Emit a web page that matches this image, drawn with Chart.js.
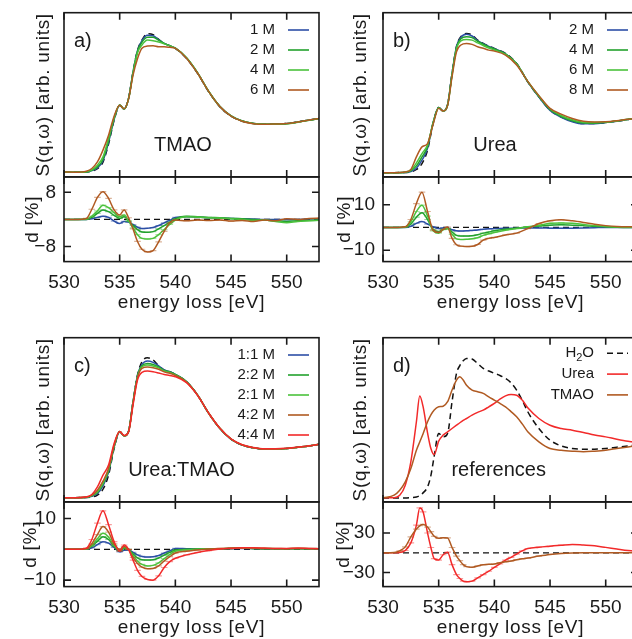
<!DOCTYPE html>
<html>
<head>
<meta charset="utf-8">
<script src="https://cdn.jsdelivr.net/npm/chart.js@4.4.1/dist/chart.umd.min.js"></script>
<style>
  html, body { margin: 0; padding: 0; background: #fff; }
  body { width: 632px; height: 639px; overflow: hidden; position: relative; }
  canvas { position: absolute; }
</style>
</head>
<body>
<script>
/* ─── Energy grids and ticks ─── */
const energy = [530, 531, 532, 532.5, 533, 533.5, 534, 534.5, 535, 535.4, 535.8, 536.2, 536.6, 537, 537.5, 538, 538.5, 539, 539.5, 540, 541, 542, 543, 544, 545, 546, 547, 548, 549, 550, 551, 552, 553];
const energyRef = [530, 531, 531.5, 532, 532.5, 533, 533.3, 533.6, 534, 534.3, 534.6, 535, 535.4, 535.8, 536.2, 536.6, 536.9, 537.2, 537.5, 538, 538.5, 539, 539.5, 540, 540.5, 541, 541.5, 542, 542.5, 543, 544, 545, 546, 547, 548, 549, 550, 551, 552, 553];
const zeroEnergy = [530, 553];
const zeroLevel = [0, 0];
const energyTicks = [530, 535, 540, 545, 550];
const dTicksA = [8, -8];
const dTicksB = [10, -10];
const dTicksC = [10, -10];
const dTicksD = [30, -30];

/* ─── a) TMAO ─── */
const waterA = [3.0, 2.8, 3.0, 3.6, 5.0, 9.0, 20.0, 34.5, 43.7, 41.3, 48.0, 64.0, 77.0, 83.3, 87.2, 86.6, 83.8, 81.3, 79.9, 78.3, 72.2, 63.0, 51.8, 42.7, 37.0, 33.9, 32.5, 32.1, 32.3, 32.5, 33.5, 34.6, 35.6];
const tmao1 = [3.0, 2.8, 3.0, 3.8, 5.5, 9.8, 21.0, 35.0, 43.7, 41.2, 47.8, 63.8, 76.8, 83.0, 86.2, 86.0, 83.6, 81.3, 79.9, 78.4, 72.4, 63.2, 51.9, 42.8, 37.1, 34.0, 32.6, 32.1, 32.3, 32.5, 33.5, 34.6, 35.6];
const tmao2 = [3.0, 2.8, 3.0, 4.0, 6.1, 10.6, 22.0, 35.5, 43.8, 41.3, 47.8, 63.6, 76.5, 82.0, 85.0, 85.0, 83.3, 81.3, 79.9, 78.4, 72.5, 63.3, 52.0, 42.9, 37.1, 34.0, 32.6, 32.1, 32.2, 32.4, 33.4, 34.5, 35.6];
const tmao4 = [3.0, 2.8, 3.1, 4.3, 7.1, 12.2, 23.5, 36.0, 43.8, 41.4, 47.6, 63.0, 75.5, 80.3, 83.3, 82.9, 82.1, 81.0, 79.8, 78.4, 72.6, 63.4, 52.0, 42.9, 37.1, 34.0, 32.5, 32.0, 32.1, 32.3, 33.3, 34.5, 35.6];
const tmao6 = [3.0, 2.9, 3.5, 5.1, 9.1, 16.3, 25.4, 37.0, 43.7, 41.5, 47.5, 62.0, 72.0, 78.3, 79.7, 79.9, 79.3, 79.3, 78.9, 78.3, 72.3, 63.1, 51.9, 42.8, 37.0, 33.9, 32.4, 32.0, 32.2, 32.5, 33.5, 34.6, 35.7];
const dTmao1 = [0, 0, 0, 0.2, 0.6, 0.9, 0.6, -0.5, -1.2, -0.6, -0.8, -1.5, -2.3, -2.7, -2.6, -2.4, -1.8, -1.0, -0.3, 0.6, 0.8, 0.7, 0.5, 0.4, 0.3, 0.2, 0.1, 0, 0, -0.1, 0, 0.1, 0.2];
const dTmao2 = [0, 0, 0, 0.6, 1.8, 2.8, 2.3, 1.2, 0.3, 0.8, -0.5, -1.8, -3.0, -3.7, -3.8, -3.6, -2.8, -1.8, -0.8, 0.2, 0.9, 0.8, 0.6, 0.5, 0.3, 0.2, 0, -0.2, -0.4, -0.6, -0.4, -0.3, -0.2];
const dTmao4 = [0, 0, 0.1, 1.0, 2.5, 4.2, 3.5, 2.0, 0.8, 1.3, -0.5, -2.5, -4.5, -5.6, -5.8, -5.6, -4.5, -3.0, -1.5, -0.2, 0.8, 0.7, 0.5, 0.4, 0.2, 0, -0.3, -0.2, -0.6, -1.0, -0.6, -0.4, -0.2];
const dTmao6 = [0, 0, 0.3, 3.0, 6.5, 8.2, 6.2, 2.8, 1.3, 2.8, 0.5, -2.8, -6.5, -8.8, -9.6, -9.2, -6.6, -3.5, -1.0, -0.2, -0.4, -0.2, -0.3, -0.2, -0.5, -0.3, -0.6, -0.2, -0.4, 0.2, 0.0, 0.3, 0.4];

/* ─── b) Urea ─── */
const waterB = [2.6, 2.6, 2.7, 3.0, 4.5, 8.1, 16.3, 32.5, 42.3, 40.2, 44.0, 63.0, 79.5, 85.4, 87.4, 86.4, 83.3, 81.3, 79.7, 78.3, 75.2, 69.1, 57.9, 48.8, 40.7, 36.6, 33.9, 32.5, 32.5, 33.1, 33.9, 35.0, 35.6];
const urea2 = [2.6, 2.6, 2.7, 3.3, 5.3, 10.2, 17.5, 33.0, 42.3, 40.2, 44.0, 63.0, 79.3, 85.0, 86.8, 85.8, 83.0, 81.1, 79.5, 78.1, 75.0, 69.0, 57.9, 48.6, 40.5, 36.3, 33.6, 32.3, 32.4, 33.1, 33.9, 35.0, 35.6];
const urea4 = [2.6, 2.6, 2.8, 3.7, 6.7, 12.2, 18.5, 33.0, 42.2, 40.2, 43.8, 62.5, 78.8, 84.1, 85.4, 84.8, 82.6, 80.8, 79.2, 77.9, 74.9, 69.0, 58.0, 48.9, 41.0, 36.8, 34.2, 32.8, 32.7, 33.2, 34.0, 35.0, 35.6];
const urea6 = [2.6, 2.6, 2.9, 4.1, 8.5, 14.2, 19.5, 32.8, 42.0, 40.2, 43.6, 62.0, 78.0, 82.9, 83.7, 83.3, 81.6, 80.0, 78.5, 77.3, 74.6, 68.7, 58.2, 49.3, 41.5, 37.4, 34.8, 33.3, 33.1, 33.4, 34.1, 35.1, 35.6];
const urea8 = [2.6, 2.6, 3.0, 4.5, 12.2, 18.3, 20.3, 32.0, 41.8, 40.1, 43.4, 61.0, 76.2, 80.3, 81.3, 80.7, 79.3, 78.3, 77.2, 76.6, 74.2, 68.1, 58.2, 49.5, 41.7, 38.2, 35.6, 33.9, 33.5, 33.6, 34.2, 35.1, 35.6];
const dUrea2 = [0, 0, 0, 0.5, 1.8, 2.6, 1.5, 0.3, -0.5, -0.2, -0.3, -1.0, -1.5, -1.6, -1.5, -1.3, -1.1, -0.8, -0.6, -0.5, -0.3, -0.3, -0.2, -0.2, -0.3, -0.4, -0.3, -0.2, -0.1, 0, 0, 0, 0];
const dUrea4 = [0, 0, 0.1, 1.5, 4.5, 6.5, 3.5, -0.8, -1.8, -0.8, -0.5, -2.0, -3.5, -3.8, -3.8, -3.6, -3.2, -2.5, -2.0, -1.5, -0.8, -0.3, 0.2, 0.6, 1.0, 1.2, 1.0, 0.8, 0.5, 0.3, 0.1, 0, 0];
const dUrea6 = [0, 0, 0.2, 2.5, 7.0, 9.8, 5.0, -1.5, -2.5, -1.0, -0.5, -3.0, -5.0, -5.3, -5.2, -5.0, -4.5, -3.5, -2.8, -2.2, -1.2, -0.5, 0.3, 1.0, 1.8, 2.0, 1.8, 1.3, 0.8, 0.4, 0.2, 0.1, 0.1];
const dUrea8 = [0, 0, 0.3, 3.5, 10.5, 15.5, 7.0, -1.2, -2.2, -0.8, 0.2, -4.8, -7.6, -8.2, -8.4, -8.3, -7.5, -5.6, -4.8, -4.4, -3.3, -2.5, -0.5, 1.7, 2.9, 3.4, 2.9, 2.2, 1.4, 0.8, 0.4, 0.3, 0.3];

/* ─── c) Urea:TMAO ─── */
const waterC = [2.6, 2.6, 2.7, 3.0, 4.1, 7.7, 16.3, 32.5, 42.7, 40.2, 43.1, 61.0, 77.2, 85.4, 87.8, 86.4, 82.9, 80.3, 79.3, 77.6, 73.2, 65.0, 53.9, 44.7, 38.2, 34.6, 32.9, 32.1, 32.1, 32.5, 33.3, 34.1, 35.2];
const mix11 = [2.6, 2.6, 2.7, 3.4, 5.1, 9.8, 18.0, 33.2, 42.7, 40.1, 43.0, 61.0, 77.0, 83.7, 85.8, 85.0, 82.9, 80.4, 79.3, 77.7, 73.3, 65.0, 53.9, 44.7, 38.2, 34.6, 32.9, 32.1, 32.1, 32.5, 33.3, 34.1, 35.2];
const mix22 = [2.6, 2.6, 2.8, 3.7, 5.8, 10.8, 18.8, 33.6, 42.8, 40.2, 43.0, 60.8, 76.6, 82.9, 84.3, 83.7, 82.2, 80.1, 79.1, 77.6, 73.3, 65.0, 53.9, 44.7, 38.2, 34.6, 32.9, 32.1, 32.1, 32.5, 33.3, 34.1, 35.2];
const mix21 = [2.6, 2.6, 2.8, 3.9, 6.1, 11.2, 19.5, 34.0, 42.8, 40.2, 42.9, 60.5, 76.0, 82.3, 83.3, 82.8, 81.6, 79.7, 78.8, 77.3, 73.1, 65.0, 53.9, 44.8, 38.3, 34.7, 33.0, 32.1, 32.1, 32.5, 33.3, 34.1, 35.2];
const mix42 = [2.6, 2.6, 2.9, 4.1, 7.1, 12.6, 20.3, 34.5, 42.8, 40.3, 42.8, 60.0, 75.5, 81.3, 82.1, 81.7, 80.8, 79.2, 78.3, 77.0, 73.0, 65.0, 54.0, 44.8, 38.3, 34.7, 33.0, 32.2, 32.2, 32.5, 33.3, 34.1, 35.2];
const mix44 = [2.6, 2.6, 3.1, 4.5, 9.1, 16.3, 22.4, 35.6, 42.9, 40.4, 42.6, 59.0, 74.2, 78.9, 79.7, 79.3, 78.5, 77.6, 77.0, 76.2, 72.6, 64.8, 54.0, 44.9, 38.4, 34.8, 33.1, 32.3, 32.3, 32.6, 33.4, 34.2, 35.2];
const dMix11 = [0, 0, 0, 0.5, 1.5, 2.5, 2.0, 0.6, -0.8, -0.3, -0.2, -1.0, -1.8, -2.3, -2.5, -2.4, -2.0, -1.2, -0.5, 0.3, 0.2, 0.1, 0.1, 0.1, 0.2, 0.3, 0.2, 0.1, 0.1, 0.1, 0.2, 0.1, 0.1];
const dMix22 = [0, 0, 0.1, 1.0, 2.6, 4.1, 3.2, 1.0, -0.5, 0.3, 0, -1.5, -2.8, -3.4, -3.5, -3.4, -2.8, -1.9, -1.0, -0.2, 0, 0.1, 0.2, 0.2, 0.3, 0.4, 0.3, 0.2, 0.2, 0.2, 0.2, 0.2, 0.2];
const dMix21 = [0, 0, 0.1, 1.3, 3.4, 5.2, 4.0, 1.3, -0.3, 0.6, 0, -2.0, -3.8, -4.9, -5.4, -5.2, -4.4, -3.0, -1.7, -0.6, -0.2, 0, 0.2, 0.2, 0.3, 0.4, 0.3, 0.3, 0.2, 0.2, 0.3, 0.2, 0.2];
const dMix42 = [0, 0, 0.2, 1.8, 4.8, 7.4, 5.6, 1.8, 0, 0.9, -0.1, -2.6, -4.6, -5.8, -6.3, -6.2, -5.4, -3.8, -2.4, -1.2, -0.6, -0.2, 0.1, 0.3, 0.4, 0.5, 0.4, 0.3, 0.3, 0.2, 0.3, 0.3, 0.2];
const dMix44 = [0, 0, 0.4, 3.2, 8.5, 12.5, 8.0, 2.5, -0.6, 1.4, 0, -3.5, -6.8, -8.8, -9.8, -10.0, -8.6, -5.9, -4.0, -2.9, -1.8, -1.0, -0.4, 0.1, 0.3, 0.5, 0.5, 0.4, 0.3, 0.3, 0.4, 0.3, 0.2];

/* ─── d) references ─── */
const waterD = [2.4, 2.4, 2.4, 2.4, 2.6, 3.0, 3.8, 5.5, 9.1, 16.0, 28.0, 41.7, 39.6, 41.7, 61.0, 78.3, 83.0, 86.0, 87.4, 87.0, 84.3, 81.3, 79.7, 78.3, 77.0, 75.2, 72.5, 68.1, 62.0, 54.9, 44.7, 37.6, 34.1, 32.5, 32.1, 32.1, 32.5, 33.3, 34.1, 35.0];
const ureaRef = [2.6, 2.6, 4.0, 10.2, 24.4, 48.8, 64.5, 58.0, 42.0, 32.5, 28.8, 37.0, 40.7, 42.7, 44.7, 46.7, 48.2, 49.6, 50.8, 52.8, 54.5, 55.9, 57.9, 60.0, 62.6, 64.6, 65.4, 65.0, 62.0, 57.3, 50.8, 46.7, 44.7, 43.7, 42.3, 40.7, 39.6, 38.2, 37.0, 36.2];
const tmaoRef = [2.4, 4.1, 7.1, 12.2, 20.3, 31.5, 36.5, 41.5, 48.8, 53.0, 56.0, 57.9, 58.3, 61.0, 68.1, 74.2, 76.2, 74.2, 71.1, 68.1, 67.1, 66.1, 64.0, 62.0, 60.0, 57.9, 55.0, 51.8, 47.5, 42.7, 36.6, 32.5, 31.5, 30.9, 30.5, 30.9, 31.5, 32.5, 33.5, 34.6];
const dUreaRef = [0, 0, 0.5, 3.5, 15, 42, 68, 62, 30, 8, -9, -11, -3, 1, -18, -33, -39, -43, -44, -43, -38, -33, -28, -22, -17, -11, -7, -2, 3, 6.5, 8.5, 10, 11.5, 12.7, 11.7, 10.5, 8.2, 5.8, 3.5, 2];
const dTmaoRef = [0, 0.5, 3, 9, 24, 36, 41, 43, 39, 32, 25, 22, 23, 22.5, 8, -5, -12, -18, -21, -22, -20, -18, -17.5, -17, -15, -13.5, -12.5, -10.5, -9, -8, -5, -2.5, -1, -0.3, 0, 0, 0, 0, 0, 0];

/* ─── Look ─── */
const INK = '#1a1a1a';
const FONT = '"Liberation Sans", Arial, Helvetica, sans-serif';
const TICK = 7;
const C = {
    blue:   '#2c4fa6',
    green:  '#22a12d',
    lgreen: '#4cc23d',
    brown:  '#b05a22',
    red:    '#f22a2a',
    black:  '#111111',
};

/* ─── Dataset helpers ─── */
function curve(xs, ys, color, label, dash) {
    return {
        label: label,
        data: xs.map((e, i) => ({ x: e, y: ys[i] })),
        borderColor: color,
        borderWidth: 1.5,
        borderDash: dash || [],
        pointRadius: 0,
        tension: 0.4,
        cubicInterpolationMode: 'monotone',
        fill: false,
    };
}

// difference curve with small error-bar caps on the structured region
function diffCurve(xs, ys, color) {
    const ds = curve(xs, ys, color);
    ds.pointStyle = 'line';
    ds.pointBorderColor = color + '77';
    ds.pointBorderWidth = 1.2;
    ds.pointRadius = ctx => {
        const e = xs[ctx.dataIndex];
        return (e >= 531.5 && e <= 546) ? 3.3 : 0;
    };
    return ds;
}

function zeroLine() {
    const ds = curve(zeroEnergy, zeroLevel, C.black, undefined, [6, 4]);
    ds.borderWidth = 1.3;
    ds.tension = 0;
    return ds;
}

/* ─── Frame, ticks, texts, legend ─── */
function drawLabel(ctx, text, x, y, align) {
    // "H_2O" style subscripts
    const parts = text.split(/(_\d)/).filter(Boolean);
    const big = ctx.font;
    const small = big.replace(/^\d+px/, '11px');
    let total = 0;
    parts.forEach(p => {
        ctx.font = p[0] === '_' ? small : big;
        total += ctx.measureText(p[0] === '_' ? p.slice(1) : p).width;
    });
    let cx = align === 'right' ? x - total : x;
    ctx.textAlign = 'left';
    parts.forEach(p => {
        const sub = p[0] === '_';
        ctx.font = sub ? small : big;
        const t = sub ? p.slice(1) : p;
        ctx.fillText(t, cx, sub ? y + 5 : y);
        cx += ctx.measureText(t).width;
    });
    ctx.font = big;
}

const panelDecor = {
    id: 'panelDecor',
    afterDatasetsDraw(chart, args, o) {
        const { ctx, chartArea: a } = chart;
        const x = chart.scales.x, y = chart.scales.y;
        ctx.save();
        ctx.strokeStyle = INK;
        ctx.fillStyle = INK;
        ctx.lineWidth = 1.6;
        ctx.setLineDash([]);
        ctx.strokeRect(a.left, a.top, a.right - a.left, a.bottom - a.top);

        ctx.beginPath();
        energyTicks.forEach(v => {
            const px = x.getPixelForValue(v);
            ctx.moveTo(px, a.bottom); ctx.lineTo(px, a.bottom - TICK);
            ctx.moveTo(px, a.top);    ctx.lineTo(px, a.top + TICK);
        });
        (o.yTicks || []).forEach(v => {
            const py = y.getPixelForValue(v);
            ctx.moveTo(a.left, py);  ctx.lineTo(a.left + TICK, py);
            ctx.moveTo(a.right, py); ctx.lineTo(a.right - TICK, py);
        });
        ctx.stroke();

        ctx.textBaseline = 'middle';
        ctx.font = '19px ' + FONT;
        if (o.xLabels) {
            ctx.textAlign = 'center';
            energyTicks.forEach(v => ctx.fillText(String(v), x.getPixelForValue(v), a.bottom + 21.5));
        }
        (o.yTicks || []).forEach(v => {
            ctx.textAlign = 'right';
            ctx.fillText(String(v).replace('-', '\u2212'), a.left - 8, y.getPixelForValue(v));
        });

        ctx.letterSpacing = '0.7px';
        if (o.xTitle) {
            ctx.textAlign = 'center';
            ctx.fillText(o.xTitle, (a.left + a.right) / 2, a.bottom + 41.5);
        }
        if (o.yTitle) {
            ctx.save();
            ctx.translate(a.left - o.yTitleGap, (a.top + a.bottom) / 2);
            ctx.rotate(-Math.PI / 2);
            ctx.textAlign = 'center';
            ctx.fillText(o.yTitle, 0, 0);
            ctx.restore();
        }
        ctx.letterSpacing = '0px';

        if (o.letter) {
            ctx.font = '20px ' + FONT;
            ctx.textAlign = 'left';
            ctx.fillText(o.letter, a.left + 10, a.top + 28.5);
        }
        if (o.note) {
            ctx.font = '20px ' + FONT;
            ctx.textAlign = 'center';
            ctx.fillText(o.note, a.left + o.noteX, a.top + 132.5);
        }

        if (o.legend) {
            const items = chart.data.datasets.filter(d => d.label).reverse();
            ctx.font = '15px ' + FONT;
            items.forEach((d, i) => {
                const yy = a.top + o.legend.top + i * o.legend.step;
                ctx.fillStyle = INK;
                drawLabel(ctx, d.label, a.left + 211, yy, 'right');
                ctx.strokeStyle = d.borderColor;
                ctx.lineWidth = 1.6;
                ctx.setLineDash(d.borderDash || []);
                ctx.beginPath();
                ctx.moveTo(a.left + 224, yy);
                ctx.lineTo(a.left + 245, yy);
                ctx.stroke();
            });
        }
        ctx.restore();
    }
};

/* ─── Chart factory ─── */
function makeChart(box, yRange, datasets, decor) {
    const canvas = document.createElement('canvas');
    canvas.width = box.w;
    canvas.height = box.h;
    canvas.style.left = box.left + 'px';
    canvas.style.top = box.top + 'px';
    canvas.style.width = box.w + 'px';
    canvas.style.height = box.h + 'px';
    document.body.appendChild(canvas);

    return new Chart(canvas, {
        type: 'line',
        data: { datasets: datasets },
        options: {
            responsive: false,
            animation: false,
            events: [],
            devicePixelRatio: 1,
            layout: { padding: box.pad },
            plugins: {
                legend: { display: false },
                tooltip: { enabled: false },
                panelDecor: decor,
            },
            scales: {
                x: { type: 'linear', min: 530, max: 552.9, display: false },
                y: { type: 'linear', min: yRange[0], max: yRange[1], display: false },
            }
        },
        plugins: [panelDecor]
    });
}

function makePanel(col, row, main, diff) {
    const left = col === 0 ? 0 : 319;
    const top = row === 0 ? 0 : 325;
    makeChart(
        { left: left, top: top, w: 320, h: 178, pad: { left: 64, top: 12.7, right: 1, bottom: 1.1 } },
        [0, 100], main.datasets,
        { yTitle: 'S(q,\u03c9) [arb. units]', yTitleGap: main.titleGap, letter: main.letter,
          note: main.note, noteX: main.noteX, legend: main.legend }
    );
    makeChart(
        { left: left, top: top + 170, w: 320, h: 150, pad: { left: 64, top: 6.9, right: 1, bottom: 58.4 } },
        diff.range, diff.datasets,
        { yTicks: diff.ticks, xLabels: true, xTitle: 'energy loss [eV]', yTitle: 'd [%]', yTitleGap: diff.titleGap }
    );
}

document.addEventListener('DOMContentLoaded', () => {
    const legend4 = { top: 17.3, step: 20 };

    makePanel(0, 0, {
        letter: 'a)', note: 'TMAO', noteX: 119, legend: legend4, titleGap: 20,
        datasets: [
            curve(energy, tmao6, C.brown, '6 M'),
            curve(energy, tmao4, C.lgreen, '4 M'),
            curve(energy, tmao2, C.green, '2 M'),
            curve(energy, tmao1, C.blue, '1 M'),
            curve(energy, waterA, C.black, undefined, [6, 4]),
        ]
    }, {
        range: [-12.45, 12.55], ticks: dTicksA, titleGap: 31,
        datasets: [
            diffCurve(energy, dTmao6, C.brown),
            diffCurve(energy, dTmao4, C.lgreen),
            diffCurve(energy, dTmao2, C.green),
            diffCurve(energy, dTmao1, C.blue),
            zeroLine(),
        ]
    });

    makePanel(1, 0, {
        letter: 'b)', note: 'Urea', noteX: 112, legend: legend4, titleGap: 22,
        datasets: [
            curve(energy, urea8, C.brown, '8 M'),
            curve(energy, urea6, C.lgreen, '6 M'),
            curve(energy, urea4, C.green, '4 M'),
            curve(energy, urea2, C.blue, '2 M'),
            curve(energy, waterB, C.black, undefined, [6, 4]),
        ]
    }, {
        range: [-15, 22.2], ticks: dTicksB, titleGap: 38,
        datasets: [
            diffCurve(energy, dUrea8, C.brown),
            diffCurve(energy, dUrea6, C.lgreen),
            diffCurve(energy, dUrea4, C.green),
            diffCurve(energy, dUrea2, C.blue),
            zeroLine(),
        ]
    });

    makePanel(0, 1, {
        letter: 'c)', note: 'Urea:TMAO', noteX: 117.5, legend: legend4, titleGap: 20,
        datasets: [
            curve(energy, mix44, C.red, '4:4 M'),
            curve(energy, mix42, C.brown, '4:2 M'),
            curve(energy, mix21, C.lgreen, '2:1 M'),
            curve(energy, mix22, C.green, '2:2 M'),
            curve(energy, mix11, C.blue, '1:1 M'),
            curve(energy, waterC, C.black, undefined, [6, 4]),
        ]
    }, {
        range: [-12.1, 15.4], ticks: dTicksC, titleGap: 33,
        datasets: [
            diffCurve(energy, dMix44, C.red),
            diffCurve(energy, dMix42, C.brown),
            diffCurve(energy, dMix21, C.lgreen),
            diffCurve(energy, dMix22, C.green),
            diffCurve(energy, dMix11, C.blue),
            zeroLine(),
        ]
    });

    makePanel(1, 1, {
        letter: 'd)', note: 'references', noteX: 115.7, legend: { top: 15.6, step: 20.8 }, titleGap: 22,
        datasets: [
            curve(energyRef, tmaoRef, C.brown, 'TMAO'),
            curve(energyRef, ureaRef, C.red, 'Urea'),
            curve(energyRef, waterD, C.black, 'H_2O', [6, 4]),
        ]
    }, {
        range: [-51.3, 77.2], ticks: dTicksD, titleGap: 39,
        datasets: [
            diffCurve(energyRef, dTmaoRef, C.brown),
            diffCurve(energyRef, dUreaRef, C.red),
            zeroLine(),
        ]
    });
});
</script>
</body>
</html>
